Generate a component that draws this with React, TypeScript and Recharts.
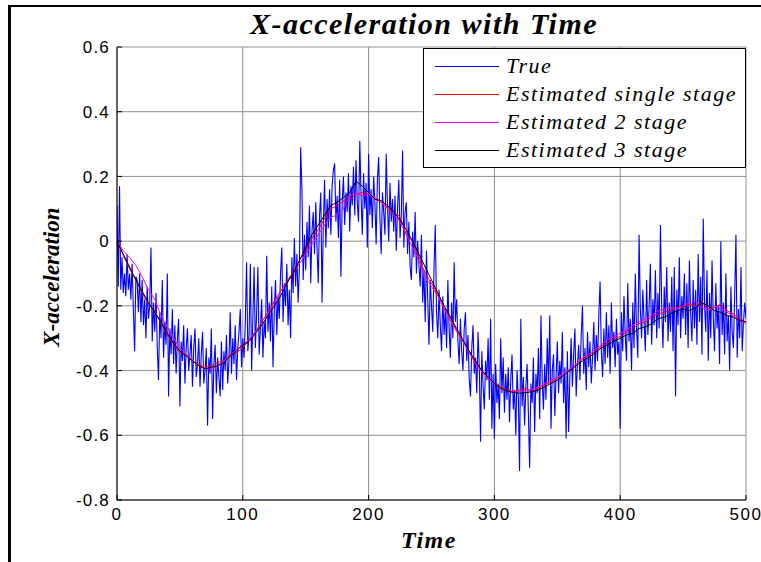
import React from 'react';
import { LineChart, Line, XAxis, YAxis, CartesianGrid } from 'recharts';

// True x-acceleration, one value per time step (t = 0..500)
const TRUE_VALUES: number[] = [
  0.11, -0.14, 0.17, -0.15, -0.05, -0.16, -0.10, -0.17, -0.04, -0.15,
  -0.10, -0.18, -0.07, -0.21, -0.34, -0.11, -0.12, -0.22, -0.10, -0.25,
  -0.12, -0.26, -0.18, -0.30, -0.14, -0.24, -0.20, -0.02, -0.31, -0.19,
  -0.28, -0.16, -0.33, -0.43, -0.22, -0.30, -0.12, -0.36, -0.25, -0.32,
  -0.10, -0.48, -0.27, -0.35, -0.21, -0.38, -0.26, -0.41, -0.30, -0.24,
  -0.51, -0.31, -0.37, -0.26, -0.44, -0.33, -0.27, -0.40, -0.35, -0.29,
  -0.45, -0.33, -0.27, -0.42, -0.38, -0.30, -0.45, -0.35, -0.28, -0.44,
  -0.40, -0.33, -0.57, -0.36, -0.41, -0.27, -0.55, -0.38, -0.32, -0.47,
  -0.36, -0.42, -0.48, -0.31, -0.46, -0.34, -0.40, -0.29, -0.44, -0.37,
  -0.22, -0.41, -0.30, -0.38, -0.26, -0.43, -0.33, -0.28, -0.21, -0.39,
  -0.30, -0.36, -0.25, -0.065, -0.34, -0.29, -0.07, -0.40, -0.24, -0.08,
  -0.33, -0.22, -0.08, -0.35, -0.27, -0.18, -0.36, -0.25, -0.30, -0.045,
  -0.28, -0.19, -0.31, -0.14, -0.39, -0.22, -0.12, -0.29, -0.17, -0.24,
  -0.10, -0.02, -0.25, -0.13, -0.20, -0.07, -0.26, -0.15, -0.30, -0.05,
  -0.16, 0.01, -0.14, -0.04, -0.19, -0.08, 0.29, 0.16, -0.12, 0.02,
  -0.09, 0.06, -0.05, 0.11, -0.13, 0.03, 0.09, -0.04, 0.12, -0.02,
  -0.13, 0.08, 0.15, -0.19, 0.05, 0.19, -0.02, 0.13, 0.04, 0.16,
  0.02, 0.17, 0.22, 0.24, 0.06, 0.14, 0.01, 0.19, -0.11, 0.12,
  0.20, 0.05, 0.15, 0.09, 0.21, 0.03, 0.17, 0.11, 0.23, 0.08,
  0.25, 0.12, 0.06, 0.31, 0.14, 0.02, 0.21, 0.10, 0.18, -0.02,
  0.27, 0.08, 0.16, 0.04, 0.20, 0.12, -0.01, 0.19, 0.26, 0.07,
  -0.04, 0.15, 0.09, 0.02, 0.27, 0.11, 0.00, 0.18, 0.06, 0.13,
  0.03, 0.14, -0.03, 0.10, 0.19, 0.01, 0.08, 0.28, -0.02, 0.09,
  0.12, -0.04, 0.06, -0.08, -0.12, 0.03, -0.05, 0.09, -0.10, 0.00,
  -0.07, -0.14, 0.02, -0.19, -0.09, -0.25, -0.03, -0.18, -0.32, -0.12,
  -0.20, -0.28, -0.08, 0.05, -0.22, -0.30, -0.15, -0.26, -0.34, -0.17,
  -0.29, -0.21, -0.33, -0.12, -0.27, -0.36, -0.19, -0.30, -0.065, -0.25,
  -0.18, -0.31, -0.38, -0.24, -0.34, -0.40, -0.27, -0.22, -0.37, -0.29,
  -0.43, -0.48, -0.33, -0.26, -0.41, -0.36, -0.47, -0.28, -0.39, -0.62,
  -0.34, -0.45, -0.52, -0.37, -0.43, -0.30, -0.49, -0.24, -0.58, -0.41,
  -0.61, -0.38, -0.50, -0.44, -0.55, -0.30, -0.47, -0.36, -0.53, -0.41,
  -0.49, -0.39, -0.56, -0.43, -0.35, -0.52, -0.46, -0.60, -0.40, -0.48,
  -0.71, -0.24, -0.51, -0.42, -0.57, -0.45, -0.38, -0.53, -0.70, -0.44,
  -0.50, -0.36, -0.59, -0.41, -0.47, -0.33, -0.55, -0.23, -0.43, -0.52,
  -0.38, -0.49, -0.30, -0.44, -0.23, -0.58, -0.40, -0.35, -0.54, -0.42,
  -0.31, -0.47, -0.37, -0.44, -0.28, -0.50, -0.39, -0.61, -0.34, -0.59,
  -0.42, -0.30, -0.45, -0.35, -0.27, -0.48, -0.38, -0.32, -0.43, -0.29,
  -0.20, -0.41, -0.33, -0.46, -0.28, -0.39, -0.31, -0.44, -0.36, -0.25,
  -0.40, -0.29, -0.37, -0.23, -0.125, -0.34, -0.42, -0.27, -0.38, -0.22,
  -0.36, -0.26, -0.41, -0.19, -0.33, -0.28, -0.39, -0.24, -0.35, -0.31,
  -0.58, -0.22, -0.34, -0.17, -0.29, -0.37, -0.13, -0.31, -0.24, -0.40,
  -0.19, -0.33, -0.10, -0.27, -0.36, 0.02, -0.21, -0.30, -0.15, -0.25,
  -0.34, -0.12, -0.29, -0.20, -0.07, -0.32, -0.18, -0.26, -0.09, -0.30,
  -0.16, -0.27, 0.05, -0.21, -0.33, -0.14, -0.25, -0.08, -0.31, -0.19,
  -0.28, -0.11, -0.34, -0.08, -0.48, -0.15, -0.26, -0.05, -0.30, -0.17,
  -0.24, -0.10, -0.29, -0.13, -0.33, -0.06, -0.22, -0.31, -0.12, -0.27,
  -0.15, -0.32, -0.04, -0.25, -0.11, -0.35, 0.07, -0.19, -0.28, -0.09,
  -0.37, -0.16, -0.30, -0.06, -0.24, -0.34, -0.13, -0.27, -0.20, -0.38,
  0.00, -0.29, -0.19, -0.35, -0.10, -0.31, -0.23, -0.40, -0.14, -0.28,
  -0.33, -0.17, 0.02, -0.36, -0.21, -0.30, -0.08, -0.34, -0.25, -0.19,
  -0.24,
];

// Estimates, sampled every EST_STEP time units (t = 0, 5, ..., 500)
const EST_STEP = 5;
const EST_SINGLE: number[] = [
  0.00, -0.045, -0.085, -0.12, -0.16, -0.195, -0.215, -0.255, -0.29, -0.32,
  -0.345, -0.35, -0.37, -0.38, -0.39, -0.385, -0.375, -0.37, -0.35, -0.345,
  -0.33, -0.305, -0.28, -0.25, -0.22, -0.185, -0.155, -0.125, -0.095, -0.06,
  -0.025, 0.01, 0.035, 0.07, 0.10, 0.11, 0.125, 0.13, 0.145, 0.15,
  0.145, 0.13, 0.12, 0.105, 0.09, 0.075, 0.02, 0.00, -0.05, -0.10,
  -0.13, -0.165, -0.205, -0.24, -0.275, -0.31, -0.34, -0.375, -0.40, -0.425,
  -0.44, -0.45, -0.46, -0.465, -0.46, -0.455, -0.465, -0.455, -0.445, -0.435,
  -0.425, -0.41, -0.395, -0.38, -0.365, -0.355, -0.34, -0.325, -0.315, -0.30,
  -0.295, -0.28, -0.27, -0.255, -0.25, -0.235, -0.225, -0.22, -0.215, -0.205,
  -0.205, -0.195, -0.20, -0.19, -0.21, -0.205, -0.195, -0.215, -0.225, -0.24,
  -0.25,
];
const EST_TWO: number[] = [
  0.00, -0.03, -0.05, -0.075, -0.11, -0.15, -0.18, -0.23, -0.265, -0.30,
  -0.33, -0.35, -0.37, -0.385, -0.395, -0.395, -0.385, -0.37, -0.355, -0.335,
  -0.32, -0.305, -0.28, -0.26, -0.225, -0.19, -0.155, -0.13, -0.10, -0.07,
  -0.04, -0.01, 0.02, 0.05, 0.075, 0.08, 0.10, 0.14, 0.15, 0.14,
  0.145, 0.135, 0.12, 0.10, 0.08, 0.06, 0.02, -0.02, -0.06, -0.11,
  -0.14, -0.17, -0.21, -0.245, -0.28, -0.31, -0.345, -0.38, -0.405, -0.425,
  -0.44, -0.455, -0.462, -0.468, -0.465, -0.462, -0.458, -0.452, -0.44, -0.43,
  -0.42, -0.41, -0.395, -0.38, -0.36, -0.35, -0.335, -0.32, -0.305, -0.295,
  -0.285, -0.275, -0.26, -0.25, -0.24, -0.23, -0.215, -0.21, -0.205, -0.21,
  -0.20, -0.19, -0.185, -0.205, -0.215, -0.20, -0.21, -0.22, -0.23, -0.245,
  -0.255,
];
const EST_THREE: number[] = [
  0.00, -0.04, -0.08, -0.12, -0.155, -0.19, -0.22, -0.25, -0.285, -0.315,
  -0.34, -0.355, -0.37, -0.385, -0.395, -0.39, -0.385, -0.375, -0.355, -0.34,
  -0.32, -0.31, -0.285, -0.26, -0.23, -0.20, -0.17, -0.13, -0.10, -0.06,
  -0.02, 0.02, 0.05, 0.08, 0.11, 0.12, 0.135, 0.15, 0.185, 0.17,
  0.15, 0.13, 0.125, 0.11, 0.09, 0.065, 0.035, 0.00, -0.04, -0.08,
  -0.12, -0.16, -0.20, -0.235, -0.27, -0.305, -0.34, -0.37, -0.40, -0.42,
  -0.44, -0.455, -0.462, -0.468, -0.47, -0.468, -0.465, -0.46, -0.45, -0.44,
  -0.43, -0.415, -0.40, -0.385, -0.37, -0.36, -0.345, -0.33, -0.32, -0.31,
  -0.30, -0.29, -0.285, -0.27, -0.265, -0.255, -0.24, -0.235, -0.225, -0.215,
  -0.21, -0.215, -0.205, -0.19, -0.20, -0.215, -0.22, -0.23, -0.235, -0.245,
  -0.25,
];

const X_TICKS = [0, 100, 200, 300, 400, 500];
const X_TICK_LABELS = ['0', '100', '200', '300', '400', '500'];
const Y_TICKS = [-0.8, -0.6, -0.4, -0.2, 0, 0.2, 0.4, 0.6];
const Y_TICK_LABELS = ['-0.8', '-0.6', '-0.4', '-0.2', '0', '0.2', '0.4', '0.6'];
const SERIES_NAMES = ['True', 'Estimated single stage', 'Estimated 2 stage', 'Estimated 3 stage'];
const SERIES_COLORS = ['#0000ff', '#ff0000', '#ff00ff', '#000000'];
const TITLE = 'X-acceleration with Time';
const X_LABEL = 'Time';
const Y_LABEL = 'X-acceleration';

const trueData = TRUE_VALUES.map((v, i) => ({ t: i, v }));
const toEst = (arr: number[]) => arr.map((v, i) => ({ t: i * EST_STEP, v }));
const SERIES_DATA = [trueData, toEst(EST_SINGLE), toEst(EST_TWO), toEst(EST_THREE)];

const SANS = '"Liberation Sans", Arial, sans-serif';
const SERIF = '"Liberation Serif", "Times New Roman", serif';

const LeftTick = (p: any) => {
  const { x, y, payload } = p;
  const i = Y_TICKS.indexOf(payload.value);
  return (
    <g>
      <line x1={x + 8} x2={x + 13} y1={y} y2={y} stroke="#000" strokeWidth={1} />
      <text x={x + 1} y={y} dy="0.36em" textAnchor="end" fontFamily={SANS} fontSize={17} fill="#000" style={{ letterSpacing: '1.2px' }}>
        {i >= 0 ? Y_TICK_LABELS[i] : String(payload.value)}
      </text>
    </g>
  );
};

const BottomTick = (p: any) => {
  const { x, y, payload } = p;
  const i = X_TICKS.indexOf(payload.value);
  return (
    <g>
      <line x1={x} x2={x} y1={y - 14} y2={y - 19} stroke="#000" strokeWidth={1} />
      <text x={x} y={y} dy="0.36em" textAnchor="middle" fontFamily={SANS} fontSize={17} fill="#000" style={{ letterSpacing: '1.5px' }}>
        {i >= 0 ? X_TICK_LABELS[i] : String(payload.value)}
      </text>
    </g>
  );
};

const TopTick = (p: any) => {
  const { x, y } = p;
  return <line x1={x} x2={x} y1={y} y2={y + 5} stroke="#000" strokeWidth={1} />;
};

const RightTick = (p: any) => {
  const { x, y } = p;
  return <line x1={x} x2={x - 5} y1={y} y2={y} stroke="#000" strokeWidth={1} />;
};

export default function App() {
  return (
    <div style={{ position: 'absolute', left: 0, top: 0, width: 761, height: 562, background: '#fff', overflow: 'hidden' }}>
      <div style={{ position: 'absolute', left: 0, top: 0 }}>
        <LineChart width={761} height={562} margin={{ top: 47, right: 15, bottom: 0, left: 0 }}>
          <CartesianGrid stroke="#8f8f8f" strokeWidth={1} />
          <XAxis
            dataKey="t"
            type="number"
            domain={[0, 500]}
            ticks={X_TICKS}
            interval={0}
            height={62}
            tickSize={0}
            tickMargin={14}
            tickLine={false}
            axisLine={{ stroke: '#000', strokeWidth: 1 }}
            tick={<BottomTick />}
            allowDataOverflow
          />
          <XAxis
            xAxisId="top"
            orientation="top"
            dataKey="t"
            type="number"
            domain={[0, 500]}
            ticks={X_TICKS}
            interval={0}
            height={0}
            tickSize={0}
            tickMargin={0}
            tickLine={false}
            axisLine={{ stroke: '#000', strokeWidth: 1 }}
            tick={<TopTick />}
            allowDataOverflow
          />
          <YAxis
            type="number"
            domain={[-0.8, 0.6]}
            ticks={Y_TICKS}
            interval={0}
            width={117}
            tickSize={0}
            tickMargin={8}
            tickLine={false}
            axisLine={{ stroke: '#000', strokeWidth: 1 }}
            tick={<LeftTick />}
            allowDataOverflow
          />
          <YAxis
            yAxisId="right"
            orientation="right"
            type="number"
            domain={[-0.8, 0.6]}
            ticks={Y_TICKS}
            interval={0}
            width={0}
            tickSize={0}
            tickMargin={0}
            tickLine={false}
            axisLine={{ stroke: '#000', strokeWidth: 1 }}
            tick={<RightTick />}
            allowDataOverflow
          />
          {SERIES_DATA.map((d, k) => (
            <Line
              key={SERIES_NAMES[k]}
              name={SERIES_NAMES[k]}
              data={d}
              dataKey="v"
              type="linear"
              stroke={SERIES_COLORS[k]}
              strokeWidth={k === 0 ? 1.1 : 1}
              dot={false}
              activeDot={false}
              isAnimationActive={false}
            />
          ))}
        </LineChart>
      </div>

      {/* figure frame */}
      <div style={{ position: 'absolute', left: 8, top: 5, width: 753, height: 2, background: '#000' }} />
      <div style={{ position: 'absolute', left: 8, top: 5, width: 3, height: 557, background: '#000' }} />

      {/* title */}
      <div style={{ position: 'absolute', left: 124, top: 9, width: 600, textAlign: 'center', fontFamily: SERIF, fontWeight: 'bold', fontStyle: 'italic', fontSize: 30, lineHeight: '30px', letterSpacing: '1.5px', whiteSpace: 'nowrap' }}>
        {TITLE}
      </div>

      {/* x label */}
      <div style={{ position: 'absolute', left: 329, top: 528, width: 200, textAlign: 'center', fontFamily: SERIF, fontWeight: 'bold', fontStyle: 'italic', fontSize: 24, lineHeight: '24px', letterSpacing: '1.5px' }}>
        {X_LABEL}
      </div>

      {/* y label */}
      <div style={{ position: 'absolute', left: 52 - 100, top: 277 - 12, width: 200, height: 24, textAlign: 'center', fontFamily: SERIF, fontWeight: 'bold', fontStyle: 'italic', fontSize: 23, lineHeight: '24px', transform: 'rotate(-90deg)', whiteSpace: 'nowrap' }}>
        {Y_LABEL}
      </div>

      {/* legend */}
      <div style={{ position: 'absolute', left: 423, top: 48, width: 323, height: 120, boxSizing: 'border-box', border: '1px solid #000', background: '#fff', paddingTop: 3 }}>
        {SERIES_NAMES.map((n, k) => (
          <div key={n} style={{ display: 'flex', alignItems: 'center', height: 28 }}>
            <div style={{ width: 64, height: 1, marginLeft: 11, background: SERIES_COLORS[k] }} />
            <div style={{ marginLeft: 7, fontFamily: SERIF, fontStyle: 'italic', fontSize: 22, lineHeight: '28px', letterSpacing: '1.5px', whiteSpace: 'nowrap', color: '#000' }}>
              {n}
            </div>
          </div>
        ))}
      </div>
    </div>
  );
}
